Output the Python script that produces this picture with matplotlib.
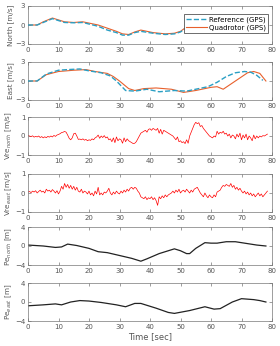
import numpy as np
import matplotlib
matplotlib.use('Agg')
import matplotlib.pyplot as plt

# velocidade norte (GPS)
t_vn = [0, 3, 5, 8, 10, 12, 15, 18, 20, 23, 26, 29, 31, 33, 35, 37, 41, 45, 48, 50, 52, 55, 60, 65, 70, 75, 78]
vn_quad = [0, 0, 0.5, 1.1, 0.8, 0.5, 0.4, 0.5, 0.3, 0, -0.5, -1.0, -1.4, -1.5, -1.1, -0.8, -1.2, -1.4, -1.3, -1.0, -0.3, 0.5, 1.0, 0.8, 0.3, -0.3, -0.6]
vn_ref = [0, 0, 0.4, 1.0, 0.7, 0.4, 0.35, 0.4, 0.15, -0.2, -0.8, -1.2, -1.6, -1.6, -1.2, -1.0, -1.3, -1.5, -1.4, -1.1, -0.4, 0.4, 0.9, 0.7, 0.2, -0.4, -0.7]

# velocidade leste (GPS)
t_ve = [0, 3, 6, 10, 15, 19, 22, 26, 28, 30, 33, 35, 38, 42, 47, 51, 55, 60, 62, 64, 68, 72, 74, 76, 78]
ve_quad = [0, 0, 1.0, 1.5, 1.7, 1.8, 1.5, 1.2, 0.7, 0, -1.2, -1.5, -1.2, -1.1, -1.3, -1.8, -1.5, -1.0, -0.9, -1.3, 0, 1.3, 1.5, 1.2, 0]
t_ve_ref = [0, 3, 6, 10, 13, 17, 20, 24, 27, 29, 32, 35, 39, 43, 48, 52, 56, 59, 62, 65, 68, 71, 73, 75, 77]
ve_ref = [0, 0, 1.1, 1.7, 1.8, 1.9, 1.6, 1.3, 0.8, 0, -1.5, -1.6, -1.3, -1.7, -1.5, -1.6, -1.2, -0.9, -0.2, 0.7, 1.3, 1.5, 1.4, 0.9, 0.1]

# erro de velocidade
vre_north = [0.02, 0.0, -0.03, 0.01, -0.06, -0.02, -0.05, 0.0, -0.08, -0.03, -0.1,
             -0.04, -0.09, -0.02, -0.06, 0.0, -0.05, 0.03, -0.02, 0.05, 0.08,
             0.12, 0.18, 0.2, 0.24, 0.2, 0.05, -0.12, -0.2, -0.1, 0.12,
             0.15, 0.0, -0.18, -0.16, -0.2, -0.15, -0.22, -0.18, -0.25, -0.2,
             -0.23, -0.15, -0.2, -0.1, -0.05, 0.05, -0.12, 0.0, -0.08, 0.02,
             -0.1, -0.05, -0.2, -0.15, -0.3, -0.1, -0.35, -0.05, -0.25, -0.15,
             -0.2, -0.38, -0.1, -0.3, -0.15, -0.25, -0.3, -0.35, -0.4, -0.38,
             -0.3, -0.15, 0.0, 0.15, 0.2, 0.25, 0.3, 0.2, 0.35, 0.38,
             0.3, 0.4, 0.35, 0.3, 0.4, 0.15, 0.35, 0.1, 0.3, 0.25,
             0.2, 0.15, 0.1, 0.05, 0.0, -0.1, -0.2, -0.05, -0.3, -0.25,
             -0.35, -0.3, -0.4, -0.2, -0.38, 0.0, 0.2, 0.4, 0.6, 0.72,
             0.65, 0.7, 0.5, 0.55, 0.4, 0.3, 0.2, 0.1, 0.0, -0.05,
             -0.1, 0.0, -0.05, 0.25, 0.1, 0.2, 0.15, 0.25, 0.1, 0.15,
             0.0, 0.1, -0.1, 0.05, 0.0, -0.15, 0.1, -0.05, 0.15, -0.2,
             0.05, -0.1, 0.1, -0.2, 0.0, -0.1, -0.25, 0.05, -0.15, 0.0,
             -0.1, 0.0, -0.05, 0.02, 0.0, 0.05, 0.1]
vre_east = [0.05, 0.08, 0.02, 0.1, 0.05, 0.12, 0.0, 0.08, 0.15, 0.05, 0.1,
            0.0, 0.2, 0.1, 0.15, 0.05, 0.18, 0.1, 0.0, 0.12, -0.05,
            0.1, 0.35, 0.2, 0.5, 0.3, 0.45, 0.25, 0.4, 0.2, 0.35,
            0.15, 0.3, 0.1, 0.05, 0.2, 0.0, 0.1, 0.05, -0.05, 0.1,
            -0.1, 0.0, -0.15, 0.1, -0.05, 0.3, -0.1, 0.0, -0.1, 0.05,
            0.0, 0.1, 0.25, 0.0, -0.1, 0.05, -0.05, 0.1, 0.0, -0.05,
            0.1, 0.0, 0.15, 0.05, 0.2, 0.1, 0.25, 0.3, 0.2, 0.3,
            0.25, 0.1, 0.0, -0.2, -0.25, -0.3, -0.2, -0.35, -0.25, -0.3,
            -0.2, -0.35, -0.25, -0.4, -0.65, -0.2, -0.3, -0.15, -0.25, -0.1,
            -0.2, -0.1, -0.05, 0.0, 0.1, 0.0, 0.15, 0.05, 0.2, 0.0,
            0.1, 0.15, 0.05, 0.2, 0.1, 0.0, 0.15, 0.05, 0.2, 0.25,
            0.3, 0.15, 0.0, -0.1, -0.2, 0.0, -0.15, -0.25, -0.1, -0.2,
            -0.25, -0.1, -0.2, 0.05, 0.1, 0.15, 0.3, 0.4, 0.35, 0.45,
            0.4, 0.35, 0.5, 0.3, 0.4, 0.2, 0.3, 0.15, 0.25, 0.1,
            0.0, 0.1, -0.05, 0.05, -0.1, 0.0, -0.15, -0.05, -0.2, -0.1,
            0.0, -0.15, -0.05, -0.2, -0.1, 0.0, 0.1]
t_vre = np.arange(len(vre_north)) * 0.5

# erro de posicao
t_pn = [0, 5, 9, 11, 13, 16, 20, 23, 26, 30, 34, 37, 39, 43, 46, 48, 50, 52, 53, 55, 58, 60, 62, 65, 68, 71, 75, 78]
pe_north = [0.2, 0, -0.3, -0.2, 0.4, 0.1, -0.5, -1.2, -1.4, -2.0, -2.6, -3.2, -2.7, -1.6, -1.0, -0.6, -1.0, -1.6, -1.6, -0.5, 0.7, 0.6, 0.6, 0.9, 0.9, 0.6, 0.2, 0]
t_pe = [0, 5, 9, 11, 14, 17, 20, 24, 29, 32, 35, 37, 42, 46, 48, 53, 58, 61, 63, 67, 70, 74, 76, 78]
pe_east = [-0.8, -0.6, -0.4, -0.6, 0, 0.3, 0.2, -0.1, -0.6, -1.0, -0.3, -0.3, -1.3, -2.2, -2.4, -1.8, -1.0, -1.5, -1.4, 0, 0.7, 0.5, 0.3, 0]

cinza = '#555555'
plt.rcParams['font.size'] = 5
plt.rcParams['mathtext.fontset'] = 'dejavusans'
fig = plt.figure(figsize=(2.8, 3.46), dpi=100)

esq = 28 / 280
larg = 244 / 280
alt = 38 / 346
bases = [44, 100, 155, 212, 265, 321]
eixos = [fig.add_axes([esq, 1 - b / 346, larg, alt]) for b in bases]

ax = eixos[0]
ax.plot(t_vn, vn_ref, '--', color='#2a9fc4', lw=1.0, label='Reference (GPS)', zorder=3)
ax.plot(t_vn, vn_quad, color='#e8602c', lw=0.8, label='Quadrotor (GPS)')
ax.set_ylim(-3, 3)
ax.set_yticks([-3, 0, 3])
ax.set_ylabel('North [m/s]')
leg = ax.legend(loc='upper right', bbox_to_anchor=(0.985, 0.8), fontsize=5,
                frameon=True, fancybox=False, borderpad=0.35, handlelength=3.0,
                handletextpad=0.3, labelspacing=0.25, borderaxespad=0)
leg.get_frame().set_edgecolor('#333333')
leg.get_frame().set_linewidth(0.5)
leg.get_frame().set_alpha(1)

ax = eixos[1]
ax.plot(t_ve_ref, ve_ref, '--', color='#2a9fc4', lw=1.0, zorder=3)
ax.plot(t_ve, ve_quad, color='#e8602c', lw=0.8)
ax.set_ylim(-3, 3)
ax.set_yticks([-3, 0, 3])
ax.set_ylabel('East [m/s]')

ax = eixos[2]
ax.plot(t_vre, vre_north, color='red', lw=0.5)
ax.set_ylim(-1, 1)
ax.set_yticks([-1, 0, 1])
ax.set_ylabel('Vre$_{north}$ [m/s]')

ax = eixos[3]
ax.plot(t_vre, vre_east, color='red', lw=0.5)
ax.set_ylim(-1, 1)
ax.set_yticks([-1, 0, 1])
ax.set_ylabel('Vre$_{east}$ [m/s]')

ax = eixos[4]
ax.plot(t_pn, pe_north, color='#222222', lw=0.9)
ax.set_ylim(-4, 4)
ax.set_yticks([-4, 0, 4])
ax.set_ylabel('Pe$_{north}$ [m]')

ax = eixos[5]
ax.plot(t_pe, pe_east, color='#222222', lw=0.9)
ax.set_ylim(-4, 4)
ax.set_yticks([-4, 0, 4])
ax.set_ylabel('Pe$_{east}$ [m]')
ax.set_xlabel('Time [sec]', fontsize=6, color=cinza, labelpad=2)

for ax in eixos:
    ax.set_xlim(0, 80)
    ax.set_xticks(range(0, 81, 10))
    ax.tick_params(direction='in', length=2, width=0.4, top=True, right=True,
                   colors=cinza, labelsize=5, pad=2)
    for s in ax.spines.values():
        s.set_linewidth(0.5)
        s.set_color('#777777')
    ax.yaxis.label.set_color(cinza)
    ax.yaxis.label.set_size(5.2)
    ax.yaxis.set_label_coords(-0.058, 0.5)

fig.savefig('out.png', dpi=100)
